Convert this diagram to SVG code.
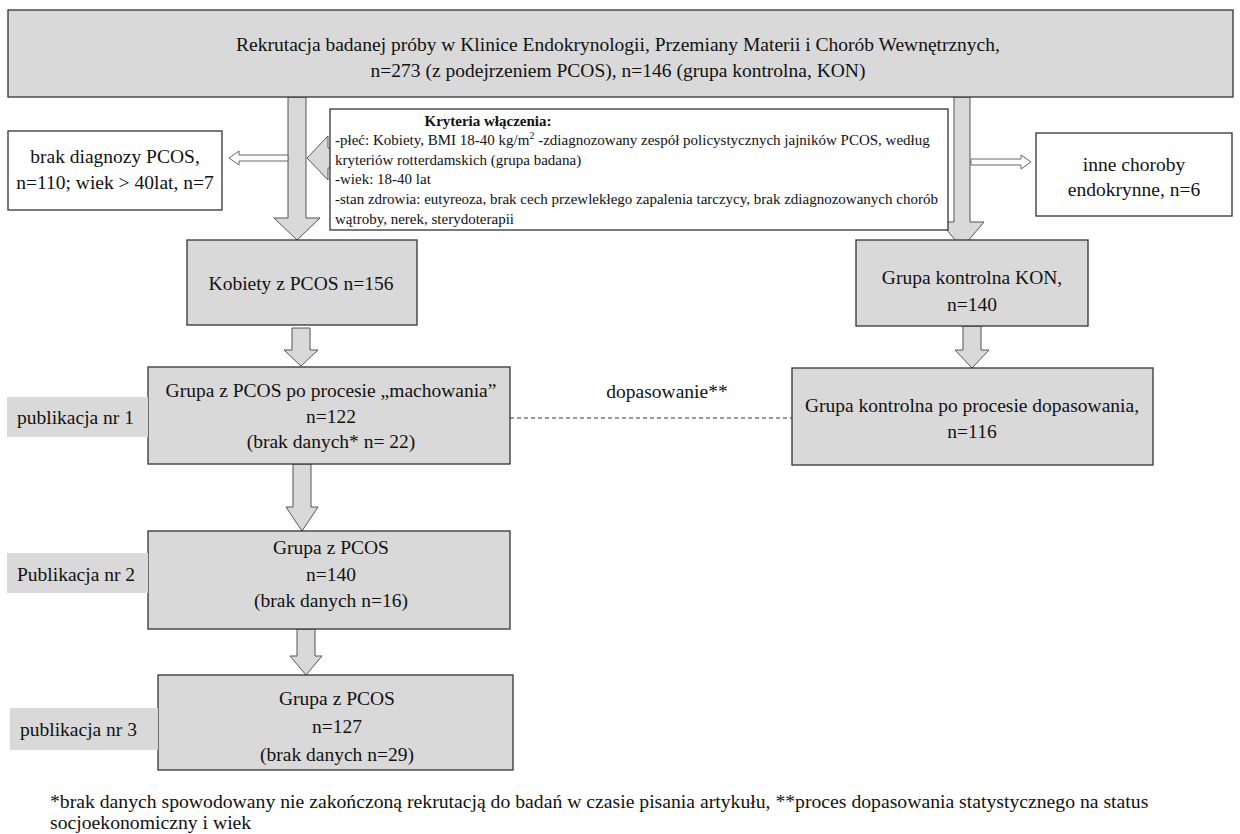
<svg xmlns="http://www.w3.org/2000/svg" width="1240" height="834" viewBox="0 0 1240 834" font-family="Liberation Serif, Times New Roman, serif">
<style>
.box{fill:#d9d9d9;stroke:#333;stroke-width:1.3}
.wbox{fill:#fff;stroke:#333;stroke-width:1.3}
.lab{fill:#d9d9d9;stroke:none}
.arr{fill:#d9d9d9;stroke:#555;stroke-width:1}
.harr{fill:#fff;stroke:#666;stroke-width:1}
text{font-family:"Liberation Serif","Times New Roman",serif;fill:#111}
.t{font-size:19.5px}
.tc{font-size:19.5px;text-anchor:middle}
.s{font-size:15px}
.f{font-size:19.7px}
</style>
<rect width="1240" height="834" fill="#fff"/>
<g id="connectors">
<polygon class="arr" points="288,97 306,97 306,218 320,218 297,240 274,218 288,218"/>
<polygon class="arr" points="954,97 970,97 970,222 984,222 962,248 940,222 954,222"/>
<polygon class="harr" points="288,155 239,155 239,151 229,158 239,165 239,161 288,161"/>
<polygon class="harr" points="971,159 1021,159 1021,155 1031,162 1021,169 1021,165 971,165"/>
<polygon class="arr" points="307,158 328,136 328,148 336,148 336,168 328,168 328,180"/>
<polygon class="arr" points="292,328 310,328 310,350 318,350 301,366 284,350 292,350"/>
<polygon class="arr" points="963,326 981,326 981,350 989,350 972,368 955,350 963,350"/>
<polygon class="arr" points="293,464 311,464 311,507 318,507 302,531 286,507 293,507"/>
<polygon class="arr" points="297,629 315,629 315,656 322,656 306,675 290,656 297,656"/>
<line x1="510" y1="418" x2="792" y2="418" stroke="#333" stroke-width="1" stroke-dasharray="4,3"/>
<text class="tc" x="667" y="398">dopasowanie**</text>
</g>
<g id="top">
<rect class="box" x="8" y="10" width="1225" height="87"/>
<text class="tc" x="618" y="51" font-size="19">Rekrutacja badanej próby w Klinice Endokrynologii, Przemiany Materii i Chorób Wewnętrznych,</text>
<text class="tc" x="618" y="77" font-size="19">n=273 (z podejrzeniem PCOS), n=146 (grupa kontrolna, KON)</text>
</g>
<g id="kryteria">
<rect class="wbox" x="330" y="109" width="618" height="121"/>
<text x="488" y="126" font-size="15" font-weight="bold" text-anchor="middle">Kryteria włączenia:</text>
<text class="s" x="335" y="145">-płeć: Kobiety, BMI 18-40 kg/m<tspan font-size="10" dy="-6">2</tspan><tspan dy="6"> -zdiagnozowany zespół policystycznych jajników PCOS, według</tspan></text>
<text class="s" x="335" y="165">kryteriów rotterdamskich  (grupa badana)</text>
<text class="s" x="335" y="184">-wiek: 18-40 lat</text>
<text class="s" x="335" y="204">-stan zdrowia: eutyreoza, brak cech przewlekłego zapalenia  tarczycy, brak zdiagnozowanych chorób</text>
<text class="s" x="335" y="224">wątroby, nerek, sterydoterapii</text>
</g>
<g id="brak">
<rect class="wbox" x="8" y="131" width="214" height="79"/>
<text class="tc" x="115" y="163">brak diagnozy PCOS,</text>
<text class="tc" x="115" y="189">n=110; wiek &gt; 40lat, n=7</text>
</g>
<g id="inne">
<rect class="wbox" x="1036" y="133" width="196" height="83"/>
<text class="tc" x="1134" y="171">inne choroby</text>
<text class="tc" x="1134" y="196">endokrynne, n=6</text>
</g>
<g id="kobiety">
<rect class="box" x="187" y="240" width="230" height="85"/>
<text class="tc" x="301" y="290">Kobiety z PCOS n=156</text>
</g>
<g id="kon">
<rect class="box" x="856" y="240" width="232" height="86"/>
<text class="tc" x="972" y="284">Grupa kontrolna KON,</text>
<text class="tc" x="972" y="311">n=140</text>
</g>
<g id="machowanie">
<rect class="box" x="148" y="367" width="362" height="97"/>
<text class="tc" x="331" y="397">Grupa z PCOS po procesie „machowania”</text>
<text class="tc" x="331" y="423">n=122</text>
<text class="tc" x="331" y="448">(brak danych* n= 22)</text>
</g>
<g id="pub1">
<rect class="lab" x="7" y="397" width="141" height="40"/>
<text class="t" x="17" y="424">publikacja nr 1</text>
</g>
<g id="dopasowanie">
<rect class="box" x="792" y="368" width="361" height="97"/>
<text class="tc" x="972" y="412">Grupa kontrolna po procesie dopasowania,</text>
<text class="tc" x="972" y="438">n=116</text>
</g>
<g id="grupa2">
<rect class="box" x="148" y="531" width="362" height="98"/>
<text class="tc" x="331" y="554">Grupa z PCOS</text>
<text class="tc" x="331" y="581">n=140</text>
<text class="tc" x="331" y="607">(brak danych n=16)</text>
</g>
<g id="pub2">
<rect class="lab" x="7" y="553" width="141" height="40"/>
<text class="t" x="17" y="581">Publikacja nr 2</text>
</g>
<g id="grupa3">
<rect class="box" x="158" y="675" width="355" height="95"/>
<text class="tc" x="337" y="705">Grupa z PCOS</text>
<text class="tc" x="337" y="733">n=127</text>
<text class="tc" x="337" y="761">(brak danych n=29)</text>
</g>
<g id="pub3">
<rect class="lab" x="10" y="708" width="148" height="42"/>
<text class="t" x="20" y="736">publikacja nr 3</text>
</g>
<g id="footnote">
<text class="f" x="50" y="808">*brak danych spowodowany nie  zakończoną rekrutacją  do badań w czasie pisania artykułu,  **proces dopasowania statystycznego na status</text>
<text class="f" x="50" y="829">socjoekonomiczny i wiek</text>
</g>
</svg>
